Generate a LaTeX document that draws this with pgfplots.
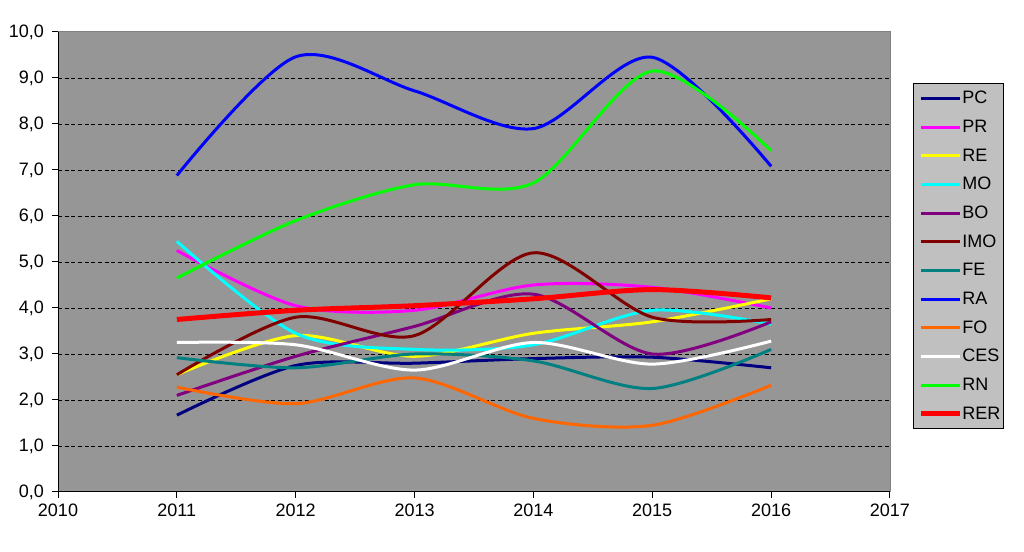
\documentclass[border=0pt]{standalone}
\usepackage{fontspec}
\setmainfont{Liberation Sans}
\usepackage{pgfplots}
\pgfplotsset{compat=1.18}

\definecolor{plotgray}{RGB}{150,150,150}
\definecolor{leggray}{RGB}{192,192,192}
\definecolor{cPC}{RGB}{0,0,128}
\definecolor{cPR}{RGB}{255,0,255}
\definecolor{cRE}{RGB}{255,255,0}
\definecolor{cMO}{RGB}{0,255,255}
\definecolor{cBO}{RGB}{128,0,128}
\definecolor{cIMO}{RGB}{128,0,0}
\definecolor{cFE}{RGB}{0,128,128}
\definecolor{cRA}{RGB}{0,0,255}
\definecolor{cFO}{RGB}{255,102,0}
\definecolor{cCES}{RGB}{255,255,255}
\definecolor{cRN}{RGB}{0,255,0}
\definecolor{cRER}{RGB}{255,0,0}

\begin{document}
\begin{tikzpicture}
\useasboundingbox (0,0) rectangle (768pt,414pt);
\begin{axis}[
  at={(43.5pt,45pt)}, anchor=south west,
  width=624pt, height=345pt, scale only axis,
  xmin=2010, xmax=2017, ymin=0, ymax=10,
  xtick={2010,...,2017}, ytick={0,...,10},
  extra y ticks={1,...,9}, extra y tick labels={},
  extra y tick style={ymajorgrids=true, major tick length=0pt},
  grid style={black, dash pattern=on 3pt off 2pt, line width=0.6pt},
  axis lines=left, axis line style={-, black, line width=0.75pt},
  tick style={black, line width=0.75pt}, tick align=outside,
  major tick length=4.5pt,
  axis background/.style={fill=plotgray},
  font=\fontsize{13.5pt}{15pt}\selectfont,
  ticklabel style={font=\fontsize{13.5pt}{15pt}\selectfont},
  x tick label style={/pgf/number format/1000 sep={}, yshift=-1pt},
  y tick label style={/pgf/number format/fixed, /pgf/number format/fixed zerofill,
    /pgf/number format/precision=1, /pgf/number format/use comma, xshift=-2.5pt},
  /pgf/number format/assume math mode=true,
  every axis plot/.append style={smooth, tension=0.5, line width=2.25pt, no markers},
  legend style={at={(1.0276,0.889)}, anchor=north west, fill=leggray, draw=black,
    line width=0.6pt, inner xsep=2.5pt, inner ysep=5.75pt, row sep=10.5pt,
    nodes={inner sep=0pt, text height=9.5pt, text depth=1.5pt},
    font=\fontsize{13.5pt}{15pt}\selectfont},
  legend cell align=left,
  legend image code/.code={\path (-1.5pt,0pt); \draw[#1] (0pt,0pt) -- (29pt,0pt);},
  after end axis/.code={\draw[gray, line width=0.75pt] (rel axis cs:0,1) -- (rel axis cs:1,1) -- (rel axis cs:1,0);},
]
\addplot[cPC] coordinates {(2011,1.67) (2012,2.75) (2013,2.8) (2014,2.9) (2015,2.93) (2016,2.7)};
\addlegendentry{PC}
\addplot[cPR] coordinates {(2011,5.25) (2012,4.05) (2013,3.95) (2014,4.5) (2015,4.45) (2016,4.0)};
\addlegendentry{PR}
\addplot[cRE] coordinates {(2011,2.55) (2012,3.4) (2013,2.95) (2014,3.45) (2015,3.7) (2016,4.2)};
\addlegendentry{RE}
\addplot[cMO] coordinates {(2011,5.45) (2012,3.45) (2013,3.1) (2014,3.2) (2015,3.95) (2016,3.65)};
\addlegendentry{MO}
\addplot[cBO] coordinates {(2011,2.1) (2012,2.95) (2013,3.6) (2014,4.3) (2015,3.0) (2016,3.7)};
\addlegendentry{BO}
\addplot[cIMO] coordinates {(2011,2.55) (2012,3.8) (2013,3.4) (2014,5.2) (2015,3.8) (2016,3.75)};
\addlegendentry{IMO}
\addplot[cFE] coordinates {(2011,2.92) (2012,2.7) (2013,3.0) (2014,2.85) (2015,2.25) (2016,3.1)};
\addlegendentry{FE}
\addplot[cRA] coordinates {(2011,6.88) (2012,9.46) (2013,8.72) (2014,7.9) (2015,9.45) (2016,7.08)};
\addlegendentry{RA}
\addplot[cFO] coordinates {(2011,2.28) (2012,1.92) (2013,2.48) (2014,1.6) (2015,1.45) (2016,2.32)};
\addlegendentry{FO}
\addplot[cCES] coordinates {(2011,3.25) (2012,3.2) (2013,2.65) (2014,3.25) (2015,2.78) (2016,3.28)};
\addlegendentry{CES}
\addplot[cRN] coordinates {(2011,4.65) (2012,5.9) (2013,6.68) (2014,6.72) (2015,9.15) (2016,7.42)};
\addlegendentry{RN}
\addplot[cRER, line width=3.75pt] coordinates {(2011,3.75) (2012,3.95) (2013,4.05) (2014,4.2) (2015,4.4) (2016,4.22)};
\addlegendentry{RER}
\end{axis}
\end{tikzpicture}
\end{document}
